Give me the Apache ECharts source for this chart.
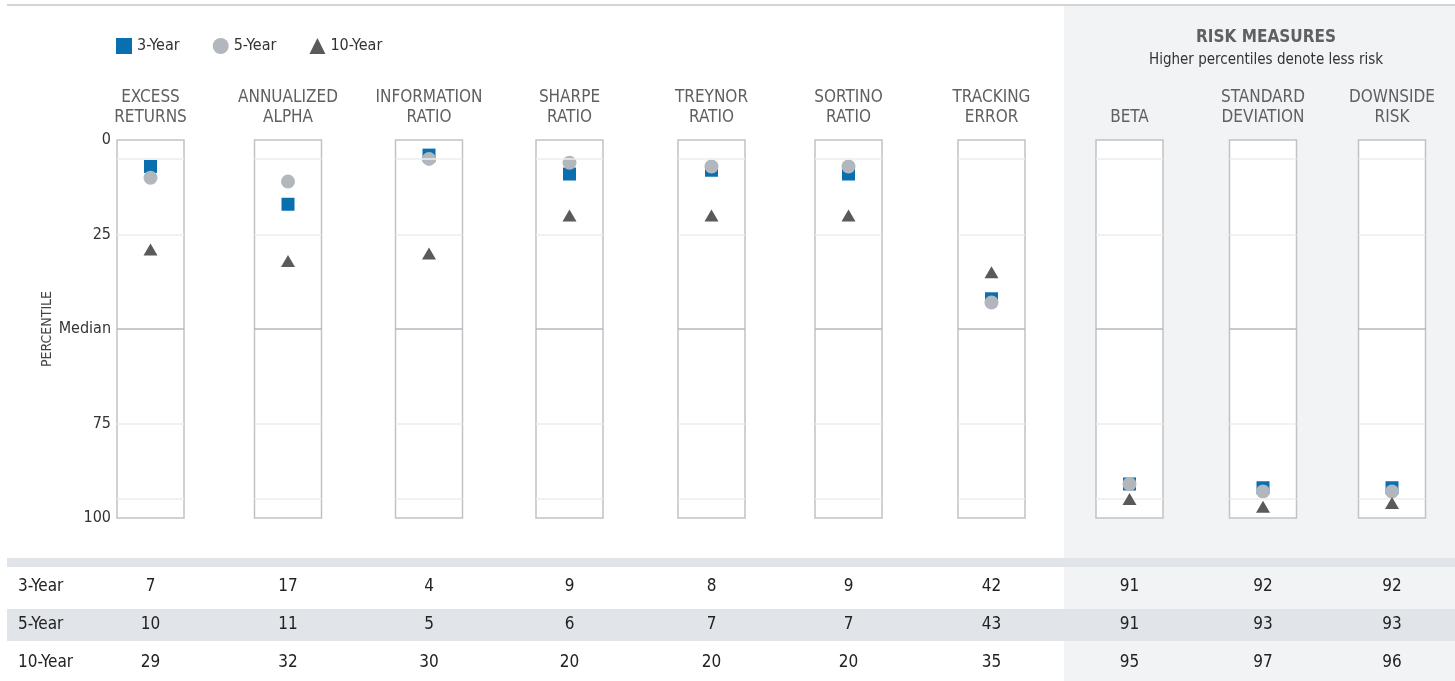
<!DOCTYPE html>
<html><head><meta charset="utf-8">
<script src="https://cdn.jsdelivr.net/npm/echarts@6/dist/echarts.min.js"></script>
<style>html,body{margin:0;padding:0;background:#fff}#c{width:1455px;height:681px}</style>
</head><body><div id="c"></div>
<script>
// ---- data ----
const categories = ['EXCESS\nRETURNS','ANNUALIZED\nALPHA','INFORMATION\nRATIO','SHARPE\nRATIO','TREYNOR\nRATIO','SORTINO\nRATIO','TRACKING\nERROR','BETA','STANDARD\nDEVIATION','DOWNSIDE\nRISK'];
const periods = ['3-Year','5-Year','10-Year'];
const threeYear = [7,17,4,9,8,9,42,91,92,92];
const fiveYear = [10,11,5,6,7,7,43,91,93,93];
const tenYear = [29,32,30,20,20,20,35,95,97,96];
const yTickLabels = {0:'0',25:'25',50:'Median',75:'75',100:'100'};
const refLines = [5,25,50,75,95];
const riskTitle = 'RISK MEASURES';
const riskSubtitle = 'Higher percentiles denote less risk';
const yAxisTitle = 'PERCENTILE';

// ---- layout ----
const centers = [150.5,288,429,569.5,711.5,848.5,991.5,1129.5,1263,1392];
const boxW = 67, boxTop = 140, boxH = 378;
const FONT = "'Liberation Sans Narrow','DejaVu Sans Condensed','Noto Sans',sans-serif";
const colors = ['#0a6fae','#b2b6bd','#595a5c'];
const symbols = ['rect','circle','triangle'];
const symSizes = [13,14,[14,12]];
const seriesVals = [threeYear, fiveYear, tenYear];

const grids = [], xAxes = [], yAxes = [], series = [];
categories.forEach((cat, i) => {
  grids.push({left: centers[i]-boxW/2, width: boxW, top: boxTop, height: boxH,
    show: true, borderColor: '#bfc3c8', borderWidth: 1.5, backgroundColor: '#fff', z: 1});
  xAxes.push({type:'category', gridIndex:i, data:[cat], position:'top',
    axisLine:{show:false}, axisTick:{show:false},
    axisLabel:{show:true, interval:0, margin:12, color:'#5f6062', fontSize:17, lineHeight:20,
      fontFamily:FONT, verticalAlign:'bottom'}});
  yAxes.push({type:'value', gridIndex:i, inverse:true, min:0, max:100, interval:25,
    axisLine:{show:false}, axisTick:{show:false}, splitLine:{show:false},
    name: i===0 ? yAxisTitle : '', nameLocation:'middle', nameGap:60, nameRotate:90,
    nameTextStyle:{color:'#444', fontSize:14, fontFamily:FONT},
    axisLabel:{show: i===0, margin:6, color:'#333', fontSize:16, fontFamily:FONT,
      formatter: v => yTickLabels[v] !== undefined ? yTickLabels[v] : ''}});
  series.push({type:'scatter', xAxisIndex:i, yAxisIndex:i, data:[], silent:true, z:1,
    markLine:{silent:true, symbol:'none', animation:false, label:{show:false},
      data: refLines.map(v => ({yAxis:v, lineStyle:{type:'solid', width:1.5, color: v===50 ? '#b3b7bc' : '#ececee'}}))}});
  periods.forEach((p, k) => {
    series.push({type:'scatter', name:p, xAxisIndex:i, yAxisIndex:i, z:3+k,
      symbol: symbols[k], symbolSize: symSizes[k], itemStyle:{color:colors[k], opacity:1},
      data:[[cat, seriesVals[k][i]]], animation:false});
  });
});

// table graphics
const graphic = [];
graphic.push({type:'rect', z:-10, shape:{x:1064, y:6, width:391, height:675}, style:{fill:'#f2f3f5'}});
graphic.push({type:'line', z:-5, shape:{x1:7, y1:5, x2:1455, y2:5}, style:{stroke:'#d3d4d6', lineWidth:2}});
graphic.push({type:'rect', z:-5, shape:{x:7, y:558, width:1448, height:9}, style:{fill:'#e1e4e8'}});
graphic.push({type:'rect', z:-5, shape:{x:7, y:609, width:1448, height:32}, style:{fill:'#e1e4e8'}});
graphic.push({type:'text', x:1266, y:38, style:{text:riskTitle, fontSize:17, fontWeight:'bold', fill:'#5f6062', fontFamily:FONT, textAlign:'center', textVerticalAlign:'middle'}});
graphic.push({type:'text', x:1266, y:60, style:{text:riskSubtitle, fontSize:15, fill:'#333', fontFamily:FONT, textAlign:'center', textVerticalAlign:'middle'}});
const rowY = [587, 625, 663];
periods.forEach((p, k) => {
  graphic.push({type:'text', x:18, y:rowY[k], style:{text:p, fontSize:17, fill:'#222', fontFamily:FONT, textAlign:'left', textVerticalAlign:'middle'}});
  seriesVals[k].forEach((v, i) => {
    graphic.push({type:'text', x:centers[i], y:rowY[k], style:{text:String(v), fontSize:17, fill:'#222', fontFamily:FONT, textAlign:'center', textVerticalAlign:'middle'}});
  });
});

const chart = echarts.init(document.getElementById('c'), null, {renderer:'canvas'});
chart.setOption({
  animation:false,
  backgroundColor:'#fff',
  legend:{data:periods, left:111, top:33, itemWidth:16, itemHeight:16, itemGap:33,
    textStyle:{fontSize:16, color:'#333', fontFamily:FONT}, selectedMode:false},
  grid:grids, xAxis:xAxes, yAxis:yAxes, series:series, graphic:graphic
});
</script></body></html>
